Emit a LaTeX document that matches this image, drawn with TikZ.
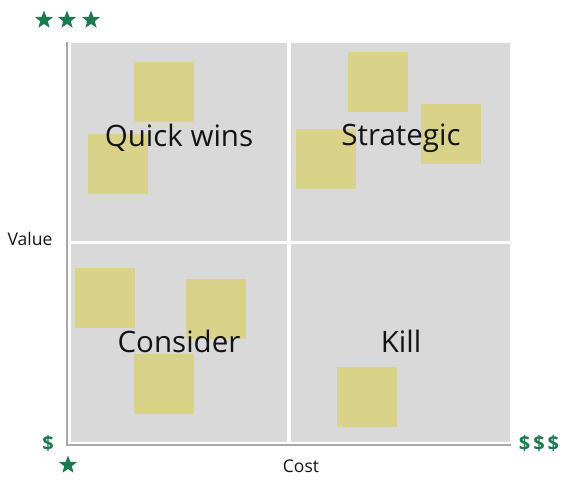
\documentclass[tikz,border=0pt]{standalone}
\usepackage{fontspec}
\setmainfont{Open Sans}
\usetikzlibrary{shapes.geometric}
\definecolor{quadgray}{HTML}{D9D9D9}
\definecolor{sticky}{HTML}{D9D38A}
\definecolor{stargreen}{HTML}{1B7A4E}
\definecolor{axisgray}{HTML}{A8A8A8}
\definecolor{txt}{HTML}{141414}
\tikzset{
  quad/.style={fill=quadgray, inner sep=0pt, outer sep=0pt, anchor=north west},
  note/.style={fill=sticky, inner sep=0pt, outer sep=0pt, anchor=north west, minimum width=60pt, minimum height=60pt},
  biglabel/.style={text=txt, font=\fontsize{29.5}{32}\selectfont, inner sep=0pt},
  axislabel/.style={text=txt, font=\fontsize{17.5}{19}\selectfont, inner sep=0pt},
  greenstar/.style={star, star points=5, star point ratio=2.4, fill=stargreen, minimum size=19pt, inner sep=0pt},
  dollar/.style={text=stargreen, font=\bfseries\fontsize{20}{22}\selectfont, inner sep=0pt},
  axisline/.style={draw=axisgray, line width=1.6pt}
}
\begin{document}
\begin{tikzpicture}[x=1pt,y=-1pt]
\useasboundingbox (0,0) rectangle (575,488);
% quadrants
\node[quad, minimum width=216pt, minimum height=198pt] (tl) at (71,43) {};
\node[quad, minimum width=219pt, minimum height=198pt] (tr) at (291,43) {};
\node[quad, minimum width=216pt, minimum height=198pt] (bl) at (71,244) {};
\node[quad, minimum width=219pt, minimum height=198pt] (br) at (291,244) {};
% sticky notes
\node[note] (n1) at (134,62) {};
\node[note] (n2) at (88,134) {};
\node[note] (n3) at (348,52) {};
\node[note] (n4) at (421,104) {};
\node[note] (n5) at (296,129) {};
\node[note] (n6) at (75,268) {};
\node[note] (n7) at (186,279) {};
\node[note] (n8) at (134,354) {};
\node[note] (n9) at (337,367) {};
% quadrant labels
\node[biglabel] (lq) at (179,138) {Quick wins};
\node[biglabel] (ls) at (401,138) {Strategic};
\node[biglabel] (lc) at (179,341) {Consider};
\node[biglabel] (lk) at (401,341) {Kill};
% axes
\coordinate (top) at (67,42);
\coordinate (origin) at (67,445);
\coordinate (right) at (511,445);
\draw[axisline] (top) -- (origin) -- (right);
% axis labels
\node[axislabel] (val) at (30,239) {Value};
\node[axislabel] (cost) at (301,466) {Cost};
% stars
\node[greenstar] (s1) at (44,20) {};
\node[greenstar] (s2) at (67,20) {};
\node[greenstar] (s3) at (91,20) {};
\node[greenstar] (s4) at (68,465) {};
% dollars
\node[dollar] (d1) at (48,443) {\$};
\node[dollar] (d3) at (539,443) {\$\kern3pt\$\kern3pt\$};
\end{tikzpicture}
\end{document}
